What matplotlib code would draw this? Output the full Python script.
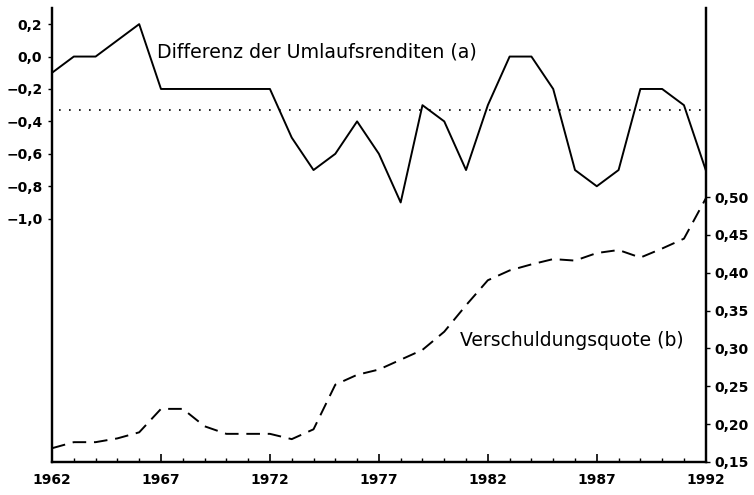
import numpy as np
import matplotlib
matplotlib.use("Agg")
import matplotlib.pyplot as plt
from matplotlib.ticker import MultipleLocator, FuncFormatter

jahre = list(range(1962, 1993))

# (a) Differenz der Umlaufsrenditen
differenz = [-0.1, 0.0, 0.0, 0.1, 0.2, -0.2, -0.2, -0.2, -0.2, -0.2,
             -0.2, -0.5, -0.7, -0.6, -0.4, -0.6, -0.9, -0.3, -0.4, -0.7,
             -0.3, 0.0, 0.0, -0.2, -0.7, -0.8, -0.7, -0.2, -0.2, -0.3,
             -0.7]

# (b) Verschuldungsquote
quote = [0.168, 0.176, 0.176, 0.181, 0.189, 0.220, 0.220, 0.197, 0.187, 0.187,
         0.187, 0.180, 0.193, 0.252, 0.265, 0.272, 0.285, 0.298, 0.322, 0.357,
         0.390, 0.403, 0.411, 0.418, 0.416, 0.426, 0.430, 0.420, 0.432, 0.445,
         0.498]

links_ticks = [0.2, 0.0, -0.2, -0.4, -0.6, -0.8, -1.0]
rechts_ticks = [0.15, 0.20, 0.25, 0.30, 0.35, 0.40, 0.45, 0.50]
x_ticks = [1962, 1967, 1972, 1977, 1982, 1987, 1992]

mittel = np.mean(differenz)  # gepunktete Linie = Durchschnitt

fig = plt.figure(figsize=(7.54, 4.95), dpi=100)
ax = fig.add_axes([0.069, 0.067, 0.867, 0.917])
ax2 = ax.twinx()

ax.plot(jahre, differenz, color="black", lw=1.4)
ax.axhline(mittel, xmin=0.01, xmax=1.0, color="black", lw=1.2, ls=(0, (1, 5)))
ax2.plot(jahre, quote, color="black", lw=1.4, ls=(0, (7, 4)))

ax.set_xlim(1962, 1992)
ax.set_ylim(-2.5, 0.3)
ax2.set_ylim(0.15, 0.75)

komma = lambda fmt: FuncFormatter(lambda v, p: (fmt % v).replace(".", ",").replace("-", "\u2212"))

ax.set_xticks(x_ticks)
ax.xaxis.set_minor_locator(MultipleLocator(1))
ax.set_yticks(links_ticks)
ax.yaxis.set_major_formatter(komma("%.1f"))
ax2.set_yticks(rechts_ticks)
ax2.yaxis.set_major_formatter(komma("%.2f"))

for a in (ax, ax2):
    a.spines["top"].set_visible(False)
    a.spines["left"].set_linewidth(1.6)
    a.spines["right"].set_linewidth(1.6)
    a.spines["bottom"].set_linewidth(1.6)

ax.tick_params(axis="x", which="major", direction="in", length=6, width=1.2,
               labelsize=10, pad=8)
ax.tick_params(axis="x", which="minor", direction="in", length=3, width=1)
ax.tick_params(axis="y", direction="out", length=3, width=1, labelsize=10, pad=4)
ax2.tick_params(axis="y", direction="out", length=3, width=1, labelsize=10, pad=3)

for lab in ax.get_xticklabels() + ax.get_yticklabels() + ax2.get_yticklabels():
    lab.set_fontweight("bold")

ax.text(1966.8, 0.03, "Differenz der Umlaufsrenditen (a)", fontsize=13.7,
        va="center", ha="left")
ax2.text(1980.7, 0.311, "Verschuldungsquote (b)", fontsize=13.5,
         va="center", ha="left")

fig.savefig("out.png", dpi=100)
